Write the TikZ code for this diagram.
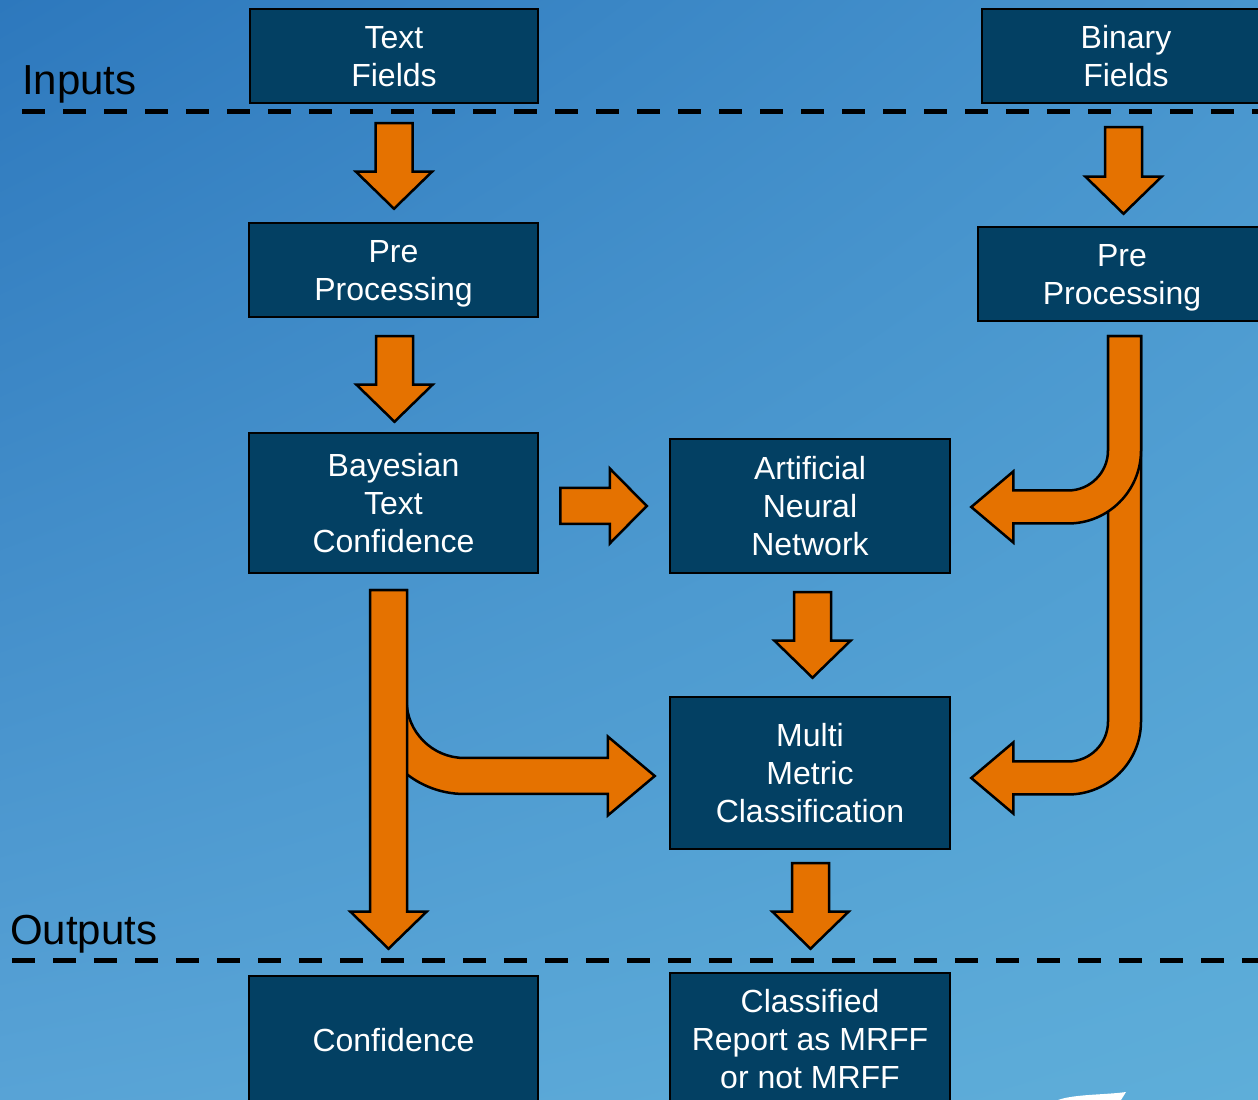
\documentclass[tikz,border=0pt]{standalone}
\usepackage{fontspec}
\setmainfont{Liberation Sans}
\usetikzlibrary{calc,shadings}

\definecolor{boxblue}{RGB}{3,64,99}
\definecolor{arrorange}{RGB}{229,114,0}
\definecolor{bgul}{RGB}{45,120,189}
\definecolor{bgur}{RGB}{72,149,206}
\definecolor{bgll}{RGB}{88,163,214}
\definecolor{bglr}{RGB}{94,174,217}

\newcommand{\boxstrut}{\rule[-6pt]{0pt}{36pt}}

\tikzset{
  blockarrow/.style={draw=black, fill=arrorange, line width=2.5pt, line join=miter},
  sepline/.style={black, line width=5pt, dash pattern=on 23pt off 18pt},
}

% straight block arrows: start of shaft, tip
\newcommand{\downblock}[2]{%
  \draw[blockarrow] let \p1=(#1), \p2=(#2) in
    (\x1-18.5pt,\y1) -- (\x1+18.5pt,\y1) -- (\x1+18.5pt,\y2+37pt) -- (\x1+38pt,\y2+37pt)
    -- (\x1,\y2) -- (\x1-38pt,\y2+37pt) -- (\x1-18.5pt,\y2+37pt) -- cycle;}
\newcommand{\rightblock}[2]{%
  \draw[blockarrow] let \p1=(#1), \p2=(#2) in
    (\x1,\y1+18pt) -- (\x2-37pt,\y1+18pt) -- (\x2-37pt,\y1+37.5pt) -- (\x2,\y1)
    -- (\x2-37pt,\y1-37.5pt) -- (\x2-37pt,\y1-18pt) -- (\x1,\y1-18pt) -- cycle;}
% bent block arrows: down, then right / down, then left
\newcommand{\bentright}[2]{%
  \draw[blockarrow] let \p1=(#1), \p2=(#2) in
    (\x1-18pt,\y1) -- (\x1+18pt,\y1) -- (\x1+18pt,\y2+76pt)
    arc[start angle=180, end angle=270, radius=58pt]
    -- (\x2-47pt,\y2+18pt) -- (\x2-47pt,\y2+39.5pt) -- (\x2,\y2)
    -- (\x2-47pt,\y2-39.5pt) -- (\x2-47pt,\y2-18pt) -- (\x1+76pt,\y2-18pt)
    arc[start angle=270, end angle=180, radius=94pt] -- cycle;}
\newcommand{\bentleft}[2]{%
  \draw[blockarrow] let \p1=(#1), \p2=(#2) in
    (\x1+16.5pt,\y1) -- (\x1-16.5pt,\y1) -- (\x1-16.5pt,\y2+56.5pt)
    arc[start angle=0, end angle=-90, radius=40pt]
    -- (\x2+42pt,\y2+16.5pt) -- (\x2+42pt,\y2+35.5pt) -- (\x2,\y2)
    -- (\x2+42pt,\y2-35.5pt) -- (\x2+42pt,\y2-16.5pt) -- (\x1-56.5pt,\y2-16.5pt)
    arc[start angle=-90, end angle=0, radius=73pt] -- cycle;}

\begin{document}
\begin{tikzpicture}[x=1pt, y=1pt]
    \useasboundingbox (0,0) rectangle (1258,1100);
    \clip (0,0) rectangle (1258,1100);
    \shade[upper left=bgul, upper right=bgur, lower left=bgll, lower right=bglr]
      (0,0) rectangle (1258,1100);

    \draw[sepline] (22,988) -- (1258,988);
    \draw[sepline] (12,139) -- (1258,139);

    \begin{scope}[every node/.style={anchor=base west, inner sep=0pt, font=\fontsize{42}{50}\selectfont}]
      \node (inputs) at (22,1005) {Inputs};
      \node (outputs) at (10,155) {Outputs};
    \end{scope}

    \begin{scope}[every node/.style={rectangle, draw=black, line width=2.5pt, fill=boxblue,
        text=white, align=center, inner sep=0pt, font=\fontsize{32}{38}\selectfont,
        execute at end node=\boxstrut}]
      \node[minimum width=288pt, minimum height=94pt] (tf) at (394,1044) {\boxstrut Text\\Fields};
      \node[minimum width=288pt, minimum height=94pt] (bf) at (1126,1044) {\boxstrut Binary\\Fields};
      \node[minimum width=289pt, minimum height=94pt] (pp1) at (393.5,830) {\boxstrut Pre\\Processing};
      \node[minimum width=288pt, minimum height=94pt] (pp2) at (1122,826) {\boxstrut Pre\\Processing};
      \node[minimum width=289pt, minimum height=140pt] (btc) at (393.5,597) {\boxstrut Bayesian\\Text\\Confidence};
      \node[minimum width=280pt, minimum height=134pt] (ann) at (810,594) {\boxstrut Artificial\\Neural\\Network};
      \node[minimum width=280pt, minimum height=152pt] (mmc) at (810,327) {\boxstrut Multi\\Metric\\Classification};
      \node[minimum width=289pt, minimum height=128pt] (conf) at (393.5,60) {\boxstrut Confidence};
      \node[minimum width=280pt, minimum height=132pt] (cls) at (810,61) {\boxstrut Classified\\Report as MRFF\\or not MRFF};
    \end{scope}

    \downblock{$(tf.south)+(0,-19)$}{$(pp1.north)+(0,13)$}
    \downblock{$(pp1.south)+(1,-18)$}{$(btc.north)+(0,10)$}
    \downblock{$(bf.south)+(-2.5,-23)$}{$(pp2.north)+(0,12)$}
    \rightblock{$(btc.east)+(21,-3)$}{$(ann.west)+(-22,0)$}
    \downblock{$(ann.south)+(2.5,-18)$}{$(mmc.north)+(0,18)$}
    \downblock{$(mmc.south)+(0.5,-13)$}{$(cls.north)+(0,23)$}

    \bentright{$(btc.south)+(-5,-16)$}{$(mmc.west)+(-14,-3)$}
    \downblock{$(btc.south)+(-5,-16)$}{$(conf.north)+(-5,26)$}

    \bentleft{$(pp2.south)+(2.5,-14)$}{$(mmc.east)+(20,-5)$}
    \bentleft{$(pp2.south)+(2.5,-14)$}{$(ann.east)+(20,-1)$}

    \fill[white] (1058,0) .. controls (1075,6) and (1105,5) .. (1126,8) -- (1121,0) -- cycle;
  \end{tikzpicture}
\end{document}
